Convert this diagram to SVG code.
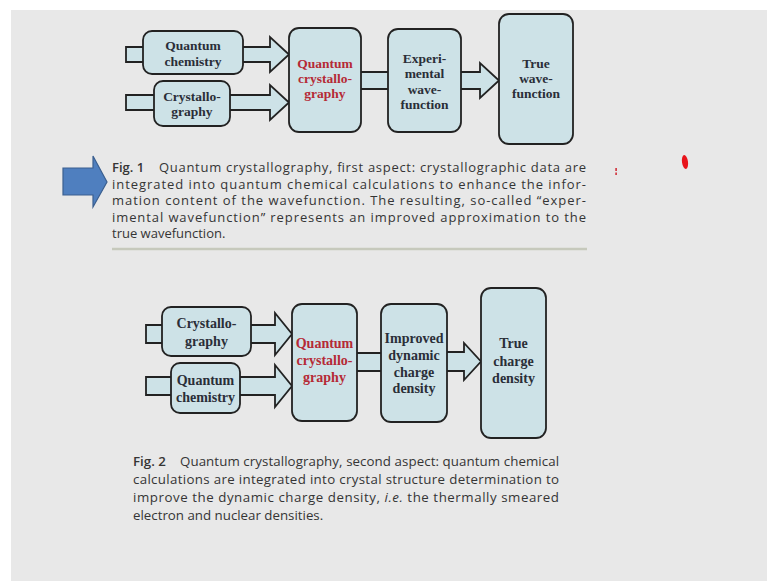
<svg xmlns="http://www.w3.org/2000/svg" width="767" height="581" viewBox="0 0 767 581">
<style>
.box{fill:#cde2e7;stroke:#222;stroke-width:1.8}
.fill{fill:#cde2e7;stroke:none}
.edge{fill:none;stroke:#222;stroke-width:1.8;stroke-linejoin:miter}
.t{font-family:"Liberation Serif","Times New Roman",serif;font-weight:bold;fill:#2a2e38;text-anchor:middle}
.f1{font-size:13.5px}
.f2{font-size:14px}
.red{fill:#b52a36}
.cap{font-family:"Open Sans","Noto Sans",sans-serif;font-size:13px;fill:#353535}
.cap2{font-size:13.3px}
.lab{font-weight:600}
</style>
<rect x="0" y="0" width="767" height="581" fill="#ffffff"/>
<rect x="11" y="10" width="756" height="571" fill="#e8e8e8"/>

<g id="connectors">
  <!-- Fig 1 -->
  <g id="stub-qchem1"><rect class="fill" x="126" y="47" width="18" height="15"/><path class="edge" d="M143,47 H126 V62 H143"/></g>
  <g id="stub-cryst1"><rect class="fill" x="126" y="95" width="29" height="15"/><path class="edge" d="M154,95 H126 V110 H154"/></g>
  <g id="arrow-qchem1-qc1"><path class="fill" d="M242,47 H270 V37 L289,54.5 L270,72 V62 H242 Z"/><path class="edge" d="M243,47 H270 V37 L289,54.5 L270,72 V62 H243"/></g>
  <g id="arrow-cryst1-qc1"><path class="fill" d="M229,95 H270 V85 L289,102.5 L270,120 V110 H229 Z"/><path class="edge" d="M230,95 H270 V85 L289,102.5 L270,120 V110 H230"/></g>
  <g id="link-qc1-exp"><rect class="fill" x="361" y="72" width="27" height="17"/><path class="edge" d="M361,72 H388 M361,89 H388"/></g>
  <g id="arrow-exp-true1"><path class="fill" d="M460,72 H480 V63 L499,80.5 L480,98 V89 H460 Z"/><path class="edge" d="M461,72 H480 V63 L499,80.5 L480,98 V89 H461"/></g>
  <!-- Fig 2 -->
  <g id="stub-cryst2"><rect class="fill" x="146" y="325" width="17" height="18"/><path class="edge" d="M162,325 H146 V343 H162"/></g>
  <g id="stub-qchem2"><rect class="fill" x="146" y="377" width="26" height="18"/><path class="edge" d="M171,377 H146 V395 H171"/></g>
  <g id="arrow-cryst2-qc2"><path class="fill" d="M250,325 H275 V313 L292,334 L275,355 V343 H250 Z"/><path class="edge" d="M251,325 H275 V313 L292,334 L275,355 V343 H251"/></g>
  <g id="arrow-qchem2-qc2"><path class="fill" d="M239,377 H275 V365 L292,386 L275,407 V395 H239 Z"/><path class="edge" d="M240,377 H275 V365 L292,386 L275,407 V395 H240"/></g>
  <g id="link-qc2-imp"><rect class="fill" x="357" y="353" width="24" height="18"/><path class="edge" d="M357,353 H381 M357,371 H381"/></g>
  <g id="arrow-imp-true2"><path class="fill" d="M446,352 H464 V343 L481,361.5 L464,380 V371 H446 Z"/><path class="edge" d="M447,352 H464 V343 L481,361.5 L464,380 V371 H447"/></g>
</g>

<!-- Fig 1 nodes -->
<g id="qchem1"><rect class="box" x="143" y="31" width="100" height="43" rx="9"/>
  <text class="t f1" x="193" y="50">Quantum</text><text class="t f1" x="193" y="66">chemistry</text></g>
<g id="cryst1"><rect class="box" x="154" y="81" width="76" height="45" rx="9"/>
  <text class="t f1" x="192" y="101">Crystallo-</text><text class="t f1" x="192" y="116">graphy</text></g>
<g id="qc1"><rect class="box" x="289" y="28" width="72" height="104" rx="10"/>
  <text class="t f1 red" x="325" y="68">Quantum</text><text class="t f1 red" x="325" y="83">crystallo-</text><text class="t f1 red" x="325" y="98">graphy</text></g>
<g id="exp1"><rect class="box" x="388" y="29" width="73" height="103" rx="10"/>
  <text class="t f1" x="424.5" y="63">Experi-</text><text class="t f1" x="424.5" y="78">mental</text><text class="t f1" x="424.5" y="94">wave-</text><text class="t f1" x="424.5" y="109">function</text></g>
<g id="true1"><rect class="box" x="499" y="14" width="74" height="130" rx="10"/>
  <text class="t f1" x="536" y="68">True</text><text class="t f1" x="536" y="83">wave-</text><text class="t f1" x="536" y="98">function</text></g>

<!-- Fig 1 caption -->
<g id="pointer"><path d="M63,168 H93 V156 L107,182 L93,207 V195 H63 Z" fill="#4f7fbf" stroke="#3b5f8f" stroke-width="1.2"/></g>
<g id="caption1">
  <text class="cap lab" x="112" y="172">Fig. 1</text>
  <text class="cap" x="159" y="172" textLength="427" lengthAdjust="spacing">Quantum crystallography, first aspect: crystallographic data are</text>
  <text class="cap" x="112" y="188.5" textLength="474" lengthAdjust="spacing">integrated into quantum chemical calculations to enhance the infor-</text>
  <text class="cap" x="112" y="205" textLength="474" lengthAdjust="spacing">mation content of the wavefunction. The resulting, so-called “exper-</text>
  <text class="cap" x="112" y="221.5" textLength="474" lengthAdjust="spacing">imental wavefunction” represents an improved approximation to the</text>
  <text class="cap" x="112" y="238">true wavefunction.</text>
</g>
<g id="marks">
  <rect x="615.3" y="168" width="1.6" height="3" fill="#d0303a"/>
  <rect x="615.3" y="172.5" width="1.6" height="2.5" fill="#d0303a"/>
  <ellipse cx="685" cy="162" rx="3" ry="7" fill="#e8141b" transform="rotate(-8 685 162)"/>
</g>
<line x1="112" y1="249" x2="587" y2="249" stroke="#c6c9bc" stroke-width="2.5"/>

<!-- Fig 2 nodes -->
<g id="cryst2"><rect class="box" x="162" y="307" width="89" height="49" rx="9"/>
  <text class="t f2" x="206.5" y="328">Crystallo-</text><text class="t f2" x="206.5" y="346">graphy</text></g>
<g id="qchem2"><rect class="box" x="171" y="363" width="69" height="50" rx="9"/>
  <text class="t f2" x="205.5" y="385">Quantum</text><text class="t f2" x="205.5" y="402">chemistry</text></g>
<g id="qc2"><rect class="box" x="292" y="304" width="65" height="117" rx="10"/>
  <text class="t f2 red" x="324.5" y="348">Quantum</text><text class="t f2 red" x="324.5" y="365">crystallo-</text><text class="t f2 red" x="324.5" y="382">graphy</text></g>
<g id="imp2"><rect class="box" x="381" y="304" width="66" height="118" rx="10"/>
  <text class="t f2" x="414" y="343">Improved</text><text class="t f2" x="414" y="360">dynamic</text><text class="t f2" x="414" y="377">charge</text><text class="t f2" x="414" y="393">density</text></g>
<g id="true2"><rect class="box" x="481" y="288" width="65" height="150" rx="10"/>
  <text class="t f2" x="513.5" y="348">True</text><text class="t f2" x="513.5" y="366">charge</text><text class="t f2" x="513.5" y="383">density</text></g>

<!-- Fig 2 caption -->
<g id="caption2">
  <text class="cap cap2 lab" x="133" y="465.5">Fig. 2</text>
  <text class="cap cap2" x="180" y="465.5" textLength="379" lengthAdjust="spacing">Quantum crystallography, second aspect: quantum chemical</text>
  <text class="cap cap2" x="133" y="483.5" textLength="426" lengthAdjust="spacing">calculations are integrated into crystal structure determination to</text>
  <text class="cap cap2" x="133" y="501.5" textLength="426" lengthAdjust="spacing">improve the dynamic charge density, <tspan font-style="italic">i.e.</tspan> the thermally smeared</text>
  <text class="cap cap2" x="133" y="520">electron and nuclear densities.</text>
</g>
</svg>
